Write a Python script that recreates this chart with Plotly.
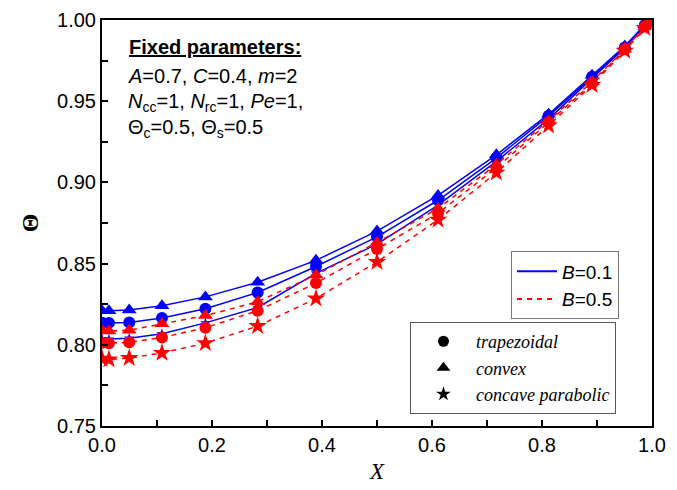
import plotly.graph_objects as go

X = [0.0, 0.0126, 0.0495, 0.109, 0.188, 0.283, 0.389, 0.5, 0.611, 0.717, 0.812, 0.891, 0.9505, 0.987, 1.0]

# B = 0.1
b1_trap = [0.8136, 0.8135, 0.8138, 0.8165, 0.8222, 0.8322, 0.8482, 0.8665, 0.8890, 0.9150, 0.9410, 0.9650, 0.9830, 0.9970, 1.0]
b1_conv = [0.8210, 0.8210, 0.8215, 0.8240, 0.8295, 0.8385, 0.8520, 0.8700, 0.8920, 0.9170, 0.9420, 0.9660, 0.9840, 0.9970, 1.0]
b1_conc = [0.8037, 0.8035, 0.8040, 0.8068, 0.8135, 0.8230, 0.8440, 0.8620, 0.8860, 0.9130, 0.9390, 0.9640, 0.9830, 0.9960, 1.0]
# B = 0.5
b5_trap = [0.8012, 0.8010, 0.8015, 0.8045, 0.8105, 0.8210, 0.8380, 0.8590, 0.8810, 0.9090, 0.9370, 0.9610, 0.9820, 0.9960, 1.0]
b5_conv = [0.8086, 0.8085, 0.8090, 0.8130, 0.8180, 0.8265, 0.8430, 0.8630, 0.8840, 0.9110, 0.9380, 0.9620, 0.9820, 0.9960, 1.0]
b5_conc = [0.7914, 0.7910, 0.7918, 0.7950, 0.8010, 0.8115, 0.8285, 0.8510, 0.8770, 0.9060, 0.9350, 0.9600, 0.9810, 0.9950, 1.0]

BLUE = "#0000ff"
RED = "#ff0000"
SANS = "Liberation Sans, Arial"
SERIF = "Liberation Serif, Times New Roman"

fig = go.Figure()

series = [
    (b1_conc, BLUE, "solid", "star", 8),
    (b1_trap, BLUE, "solid", "circle", 12),
    (b1_conv, BLUE, "solid", "triangle-up", 13),
    (b5_conc, RED, "dash", "star", 14),
    (b5_conv, RED, "dash", "triangle-up", 13),
    (b5_trap, RED, "dash", "circle", 12),
]
for ys, col, dash, sym, sz in series:
    fig.add_trace(go.Scatter(
        x=X, y=ys, mode="lines+markers",
        line=dict(color=col, width=1.5, dash=dash if dash == "solid" else "5px,5px"),
        marker=dict(symbol=sym, size=sz, color=col, line=dict(width=0)),
        showlegend=False,
    ))

# Legend 1: B values
fig.add_trace(go.Scatter(x=[None], y=[None], mode="lines", name="<i>B</i>=0.1",
                         line=dict(color=BLUE, width=2), legend="legend"))
fig.add_trace(go.Scatter(x=[None], y=[None], mode="lines", name="<i>B</i>=0.5",
                         line=dict(color=RED, width=2, dash="5px,5px"), legend="legend"))
# Legend 2: shapes
for name, sym, sz in [("trapezoidal", "circle", 11), ("convex", "triangle-up", 12),
                      ("concave parabolic", "star", 11)]:
    fig.add_trace(go.Scatter(x=[None], y=[None], mode="markers", name="<i>" + name + "</i>",
                             marker=dict(symbol=sym, size=sz, color="black"),
                             legend="legend2"))

axis_common = dict(
    showline=True, linecolor="black", linewidth=2, mirror=True,
    ticks="inside", ticklen=6, tickwidth=1.5, tickcolor="black",
    showgrid=False, zeroline=False, automargin=False,
    tickfont=dict(family=SANS, size=20, color="black"),
)

fig.update_layout(
    width=677, height=490,
    margin=dict(l=102, r=25, t=20, b=64),
    paper_bgcolor="white", plot_bgcolor="white",
    xaxis=dict(range=[0, 1], dtick=0.2, tickformat=".1f",
               minor=dict(dtick=0.1, ticks="inside", ticklen=6, tickcolor="black", tickwidth=1.5),
               title=dict(text="<i>X</i>", font=dict(family=SERIF, size=23, color="black"), standoff=8),
               **axis_common),
    yaxis=dict(range=[0.75, 1.0], dtick=0.05, tickformat=".2f",
               minor=dict(dtick=0.025, ticks="inside", ticklen=6, tickcolor="black", tickwidth=1.5),
               title=dict(text="<b>Θ</b>", font=dict(family=SERIF, size=24, color="black"), standoff=12),
               **axis_common),
    legend=dict(x=0.94, y=0.43, xanchor="right", yanchor="top",
                bordercolor="#777777", borderwidth=1, bgcolor="white",
                font=dict(family=SANS, size=19, color="black"),
                tracegroupgap=0, itemwidth=40),
    legend2=dict(x=0.9345, y=0.256, xanchor="right", yanchor="top",
                 bordercolor="#555555", borderwidth=1, bgcolor="white",
                 font=dict(family=SERIF, size=18, color="black"),
                 itemwidth=55),
    annotations=[
        dict(x=0.046, y=0.933, xref="paper", yref="paper", xanchor="left", yanchor="middle",
             text="<b><u>Fixed parameters:</u></b>", showarrow=False,
             font=dict(family=SANS, size=20, color="black")),
        dict(x=0.044, y=0.862, xref="paper", yref="paper", xanchor="left", yanchor="middle",
             text="<i>A</i>=0.7, <i>C</i>=0.4, <i>m</i>=2", showarrow=False,
             font=dict(family=SANS, size=20, color="black")),
        dict(x=0.044, y=0.798, xref="paper", yref="paper", xanchor="left", yanchor="middle",
             text="<i>N</i><sub>cc</sub>=1, <i>N</i><sub>rc</sub>=1, <i>Pe</i>=1,", showarrow=False,
             font=dict(family=SANS, size=20, color="black")),
        dict(x=0.044, y=0.733, xref="paper", yref="paper", xanchor="left", yanchor="middle",
             text="Θ<sub>c</sub>=0.5, Θ<sub>s</sub>=0.5", showarrow=False,
             font=dict(family=SANS, size=20, color="black")),
    ],
)

fig.write_html("out.html")
